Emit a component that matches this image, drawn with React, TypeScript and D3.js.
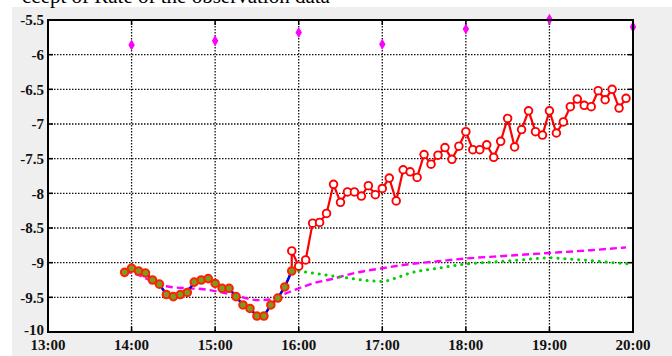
import React from "react";
import * as d3 from "d3";

const xTickLabels = ["13:00", "14:00", "15:00", "16:00", "17:00", "18:00", "19:00", "20:00"];
const yTickValues = [-10, -9.5, -9, -8.5, -8, -7.5, -7, -6.5, -6, -5.5];

// observed period (red circles, olive fill, blue line)
const obsTimes = ["13:55","14:00","14:05","14:10","14:15","14:20","14:25","14:30","14:35","14:40","14:45","14:50","14:55","15:00","15:05","15:10","15:15","15:20","15:25","15:30","15:35","15:40","15:45","15:50","15:55"];
const obsValues = [-9.14,-9.08,-9.12,-9.15,-9.25,-9.31,-9.46,-9.49,-9.46,-9.43,-9.28,-9.25,-9.23,-9.30,-9.37,-9.37,-9.49,-9.61,-9.66,-9.77,-9.77,-9.61,-9.51,-9.35,-9.12];

// forecast red series (hollow circles)
const fcTimes = ["15:55","16:00","16:05","16:10","16:15","16:20","16:25","16:30","16:35","16:40","16:45","16:50","16:55","17:00","17:05","17:10","17:15","17:20","17:25","17:30","17:35","17:40","17:45","17:50","17:55","18:00","18:05","18:10","18:15","18:20","18:25","18:30","18:35","18:40","18:45","18:50","18:55","19:00","19:05","19:10","19:15","19:20","19:25","19:30","19:35","19:40","19:45","19:50","19:55"];
const fcValues = [-8.83,-9.05,-8.96,-8.43,-8.42,-8.29,-7.87,-8.13,-7.98,-7.98,-8.04,-7.89,-8.02,-7.93,-7.78,-8.11,-7.66,-7.69,-7.77,-7.44,-7.58,-7.45,-7.34,-7.51,-7.32,-7.11,-7.37,-7.37,-7.30,-7.48,-7.25,-6.92,-7.33,-7.08,-6.81,-7.11,-7.16,-6.81,-7.13,-6.97,-6.75,-6.64,-6.73,-6.75,-6.52,-6.65,-6.50,-6.77,-6.63];

// magenta dashed model
const modelTimes = ["13:55","14:05","14:15","14:25","14:40","14:50","15:00","15:10","15:20","15:30","15:40","15:50","16:00","16:10","16:25","16:40","17:00","17:20","17:40","18:00","18:30","19:00","19:30","19:55"];
const modelValues = [-9.12,-9.18,-9.27,-9.34,-9.37,-9.38,-9.41,-9.45,-9.50,-9.54,-9.53,-9.45,-9.37,-9.30,-9.23,-9.15,-9.08,-9.02,-8.98,-8.94,-8.90,-8.86,-8.82,-8.78];

// green dotted
const greenTimes = ["16:00","16:10","16:20","16:35","16:50","17:00","17:10","17:20","17:40","18:00","18:20","18:40","19:00","19:15","19:30","19:45","20:00"];
const greenValues = [-9.12,-9.15,-9.18,-9.22,-9.26,-9.27,-9.22,-9.15,-9.08,-9.02,-8.99,-8.96,-8.93,-8.95,-8.97,-9.0,-9.02];

// magenta diamonds
const diamondTimes = ["14:00","15:00","16:00","17:00","18:00","19:00","20:00"];
const diamondValues = [-5.86,-5.80,-5.68,-5.85,-5.63,-5.49,-5.60];

const toH = (s: string) => {
  const [h, m] = s.split(":").map(Number);
  return h + m / 60;
};

export default function App() {
  const L = 48, R = 633, T = 20, B = 332;
  const x = d3.scaleLinear().domain([13, 20]).range([L, R]);
  const y = d3.scaleLinear().domain([-10, -5.5]).range([B, T]);
  const line = d3.line<[number, number]>().x(d => x(d[0])).y(d => y(d[1]));
  const smooth = d3.line<[number, number]>().x(d => x(d[0])).y(d => y(d[1])).curve(d3.curveMonotoneX);

  const obs: [number, number][] = obsTimes.map((t, i) => [toH(t), obsValues[i]]);
  const fc: [number, number][] = fcTimes.map((t, i) => [toH(t), fcValues[i]]);
  const model: [number, number][] = modelTimes.map((t, i) => [toH(t), modelValues[i]]);
  const green: [number, number][] = greenTimes.map((t, i) => [toH(t), greenValues[i]]);
  const diam: [number, number][] = diamondTimes.map((t, i) => [toH(t), diamondValues[i]]);
  const xTicks = xTickLabels.map(toH);
  const font = "'Liberation Serif', 'Times New Roman', serif";
  const diamond = d3.symbol().type(d3.symbolDiamond).size(36)();

  return (
    <svg width={672} height={356} style={{ position: "absolute", left: 0, top: 0 }}>
      <rect x={0} y={0} width={672} height={356} fill="#fff" />
      <rect x={12} y={7} width={660} height={349} fill="#efefef" />
      <text x={22} y={2.5} fontFamily={font} fontSize={21} fill="#000">ccept of Rate of the observation data</text>
      <rect x={L} y={T} width={R - L} height={B - T} fill="#fff" />
      {/* grid */}
      {xTicks.slice(1, -1).map((t, i) => (
        <line key={"gx" + i} x1={x(t)} x2={x(t)} y1={T} y2={B} stroke="#111" strokeWidth={1.3} strokeDasharray="1.5,1.5" />
      ))}
      {yTickValues.slice(1, -1).map((v, i) => (
        <line key={"gy" + i} x1={L} x2={R} y1={y(v)} y2={y(v)} stroke="#111" strokeWidth={1.3} strokeDasharray="1.5,1.5" />
      ))}
      {/* ticks */}
      {xTicks.map((t, i) => (
        <g key={"tx" + i}>
          <line x1={x(t)} x2={x(t)} y1={B} y2={B - 5} stroke="#000" strokeWidth={1.5} />
          <line x1={x(t)} x2={x(t)} y1={T} y2={T + 5} stroke="#000" strokeWidth={1.5} />
        </g>
      ))}
      {yTickValues.map((v, i) => (
        <g key={"ty" + i}>
          <line x1={L} x2={L + 5} y1={y(v)} y2={y(v)} stroke="#000" strokeWidth={1.5} />
          <line x1={R} x2={R - 5} y1={y(v)} y2={y(v)} stroke="#000" strokeWidth={1.5} />
        </g>
      ))}
      {/* series */}
      <path d={smooth(model) || ""} fill="none" stroke="#ff00ff" strokeWidth={2.4} strokeDasharray="7,4" />
      <path d={smooth(green) || ""} fill="none" stroke="#00d000" strokeWidth={3} strokeDasharray="0.1,6.8" strokeLinecap="round" />
      <path d={line([obs[obs.length - 1], ...fc]) || ""} fill="none" stroke="#ff0000" strokeWidth={2.2} />
      <path d={line(obs) || ""} fill="none" stroke="#ff0000" strokeWidth={2} />
      <path d={line(obs) || ""} fill="none" stroke="#0000ee" strokeWidth={2.5} />
      {fc.map((d, i) => (
        <circle key={"fc" + i} cx={x(d[0])} cy={y(d[1])} r={3.8} fill="#fff" stroke="#ff0000" strokeWidth={1.9} />
      ))}
      {obs.map((d, i) => (
        <circle key={"ob" + i} cx={x(d[0])} cy={y(d[1])} r={3.8} fill="#7a9a20" stroke="#ff2200" strokeWidth={2} />
      ))}
      {diam.map((d, i) => (
        <path key={"dm" + i} d={diamond || ""} transform={`translate(${x(d[0])},${y(d[1])})`} fill="#ff00ff" />
      ))}
      {/* frame */}
      <rect x={L} y={T} width={R - L} height={B - T} fill="none" stroke="#000" strokeWidth={2} />
      {/* labels */}
      {yTickValues.map((v, i) => (
        <text key={"ly" + i} x={44} y={y(v)} dy={i === 0 ? "0.2em" : "0.35em"} textAnchor="end" fontFamily={font} fontWeight="bold" fontSize={15} fill="#111">
          {String(v)}
        </text>
      ))}
      {xTickLabels.map((s, i) => (
        <text key={"lx" + i} x={x(xTicks[i])} y={350} textAnchor="middle" fontFamily={font} fontWeight="bold" fontSize={15} fill="#111">
          {s}
        </text>
      ))}
    </svg>
  );
}
